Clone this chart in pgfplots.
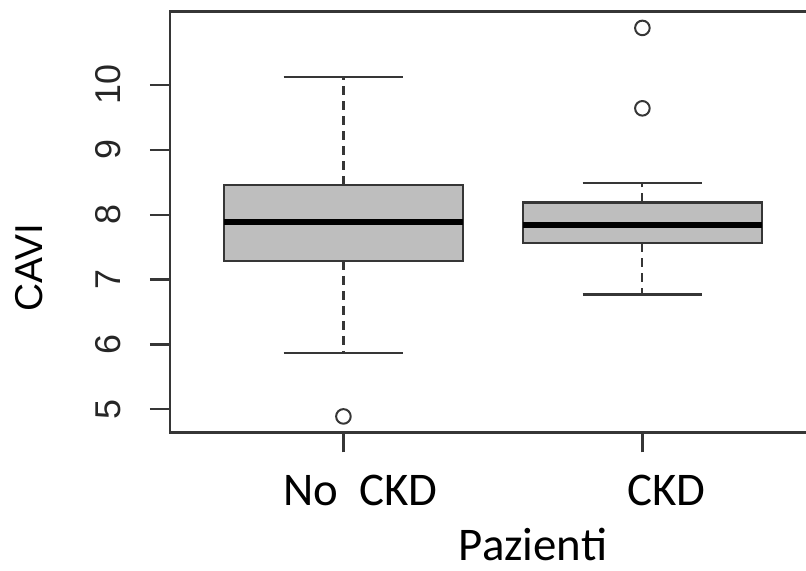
\documentclass[border=0pt]{standalone}
\usepackage{fontspec}
\setmainfont{Carlito}
\newfontfamily\arial{Liberation Sans}
\usepackage{pgfplots}
\pgfplotsset{compat=1.18}
\definecolor{ax}{HTML}{363636}
\definecolor{boxfill}{HTML}{BEBEBE}
\begin{document}
\begin{tikzpicture}
\path[use as bounding box] (0,0) rectangle (806bp,571bp);
\begin{axis}[
  at={(170bp,138.7bp)}, anchor=south west,
  scale only axis, width=645.8bp, height=420.6bp,
  xmin=0.42, xmax=2.58, ymin=4.645, ymax=11.13,
  axis line style={ax, line width=2.4bp},
  tick style={ax, line width=2.4bp},
  tick align=outside, major tick length=20bp,
  xtick pos=left, ytick pos=left,
  xtick={1,2},
  xticklabels={{\makebox[0pt]{\hspace*{34bp}No\ \ CKD}}, {\makebox[0pt]{\hspace*{48bp}CKD}}},
  xticklabel style={font=\fontsize{47}{47}\selectfont, anchor=base, inner sep=0pt},
  xticklabel shift=52.7bp,
  ytick={5,6,7,8,9,10},
  yticklabels={5,6,7,8,9,10},
  yticklabel style={font=\arial\fontsize{36}{36}\selectfont, rotate=90, anchor=south, inner sep=0pt, text=black!85},
  yticklabel shift=29bp,
  xlabel={Pazienti},
  xlabel style={at={(axis description cs:0.5621,-0.3037)}, anchor=base, font=\fontsize{47}{47}\selectfont, inner sep=0pt},
  ylabel={CAVI},
  ylabel style={at={(axis description cs:-0.2183,0.3918)}, anchor=center, font=\arial\fontsize{39}{39}\selectfont, inner sep=0pt},
  whisk/.style={ax, line width=2.2bp, dash pattern=on 9bp off 6bp},
  staple/.style={ax, line width=2.4bp},
  boxst/.style={draw=ax, fill=boxfill, line width=2.4bp, line join=miter},
  medst/.style={black, line width=6.5bp},
  outl/.style={ax, only marks, mark=o, mark size=7.3bp, mark options={ax, line width=2bp, solid}},
]
% --- No CKD: whiskers 5.87 / 10.12, box 7.29-8.46, median 7.89
\addplot[whisk] coordinates {(1,7.29) (1,5.87)};
\addplot[whisk] coordinates {(1,8.46) (1,10.12)};
\addplot[staple] coordinates {(0.8,5.87) (1.2,5.87)};
\addplot[staple] coordinates {(0.8,10.12) (1.2,10.12)};
\addplot[boxst] coordinates {(0.6,7.29) (1.4,7.29) (1.4,8.46) (0.6,8.46) (0.6,7.29)} -- cycle;
\addplot[medst] coordinates {(0.6,7.89) (1.4,7.89)};
\addplot[outl] coordinates {(1,4.89)};
% --- CKD: whiskers 6.77 / 8.49, box 7.56-8.19, median 7.84
\addplot[whisk] coordinates {(2,7.56) (2,6.77)};
\addplot[whisk] coordinates {(2,8.19) (2,8.49)};
\addplot[staple] coordinates {(1.8,6.77) (2.2,6.77)};
\addplot[staple] coordinates {(1.8,8.49) (2.2,8.49)};
\addplot[boxst] coordinates {(1.6,7.56) (2.4,7.56) (2.4,8.19) (1.6,8.19) (1.6,7.56)} -- cycle;
\addplot[medst] coordinates {(1.6,7.84) (2.4,7.84)};
\addplot[outl] coordinates {(2,9.64) (2,10.88)};
\end{axis}
\end{tikzpicture}
\end{document}
